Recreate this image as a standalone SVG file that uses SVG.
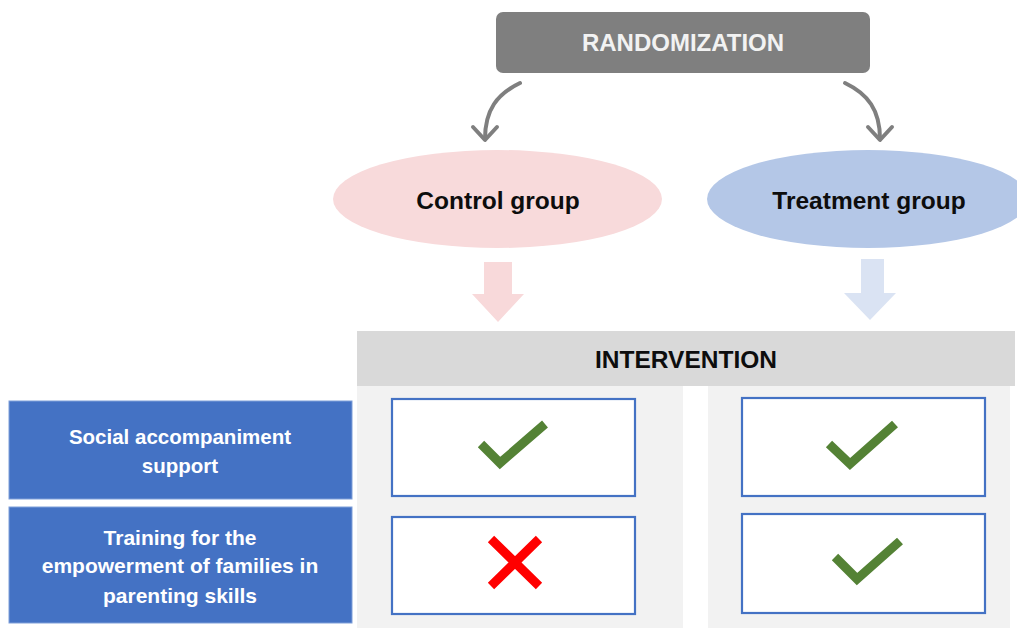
<svg xmlns="http://www.w3.org/2000/svg" width="1017" height="628" viewBox="0 0 1017 628">
  <style>
    .lbl { font-family: "Liberation Sans", Arial, sans-serif; font-weight: bold; text-anchor: middle; }
    .dark { fill: #0d0d0d; }
    .light { fill: #f2f2f2; }
    .white { fill: #ffffff; }
    .row { fill: #4472c4; stroke: #7f9fd9; stroke-width: 1; }
    .cell { fill: #ffffff; stroke: #4472c4; stroke-width: 2.2; }
    .col { fill: #f2f2f2; }
    .flow { fill: none; stroke: #7f7f7f; stroke-width: 4; stroke-linecap: round; stroke-linejoin: round; }
    .check { fill: none; stroke: #548235; stroke-width: 9; stroke-linecap: butt; stroke-linejoin: miter; }
    .cross { fill: none; stroke: #ff0000; stroke-width: 9; stroke-linecap: butt; }
  </style>

  <rect width="1017" height="628" fill="#ffffff"/>

  <!-- randomization header -->
  <g id="randomization">
    <rect x="496" y="12" width="374" height="61" rx="7" fill="#7f7f7f"/>
    <text class="lbl light" x="683" y="51" font-size="24">RANDOMIZATION</text>
  </g>

  <!-- curved arrows from randomization to the groups -->
  <g id="connectors">
    <path class="flow" d="M520,83 C497,94 485,110 485,139"/>
    <path class="flow" d="M473,127 L485,140 L497,127"/>
    <path class="flow" d="M845,83 C868,94 880,110 880,139"/>
    <path class="flow" d="M868,127 L880,140 L892,127"/>
    <!-- block arrows from the groups to the intervention table -->
    <polygon points="484,262 512,262 512,294 524,294 498,322 472,294 484,294" fill="#f8d9da"/>
    <polygon points="861,259 884,259 884,293 896,293 870,320 844,293 861,293" fill="#dae3f3"/>
  </g>

  <g id="control-group">
    <ellipse cx="497.5" cy="199" rx="164.5" ry="49" fill="#f8dadb"/>
    <text class="lbl dark" x="498" y="209" font-size="24.5">Control group</text>
  </g>

  <g id="treatment-group">
    <ellipse cx="868" cy="199" rx="161" ry="49" fill="#b4c7e7"/>
    <text class="lbl dark" x="869" y="209" font-size="24.5">Treatment group</text>
  </g>

  <!-- intervention table -->
  <g id="intervention">
    <rect class="col" x="357" y="386" width="326" height="242"/>
    <rect class="col" x="708" y="386" width="302" height="242"/>
    <rect x="357" y="331" width="658" height="55" fill="#d9d9d9"/>
    <text class="lbl dark" x="686" y="368" font-size="24.5">INTERVENTION</text>
  </g>

  <g id="row-social-support">
    <rect class="row" x="9" y="401" width="343" height="98"/>
    <text class="lbl white" x="180" y="444" font-size="20.5">Social accompaniment</text>
    <text class="lbl white" x="180" y="473" font-size="20.5">support</text>
  </g>

  <g id="row-parenting-training">
    <rect class="row" x="9" y="507" width="343" height="116"/>
    <text class="lbl white" x="180" y="545" font-size="21">Training for the</text>
    <text class="lbl white" x="180" y="573" font-size="21">empowerment of families in</text>
    <text class="lbl white" x="180" y="603" font-size="21">parenting skills</text>
  </g>

  <g id="control-social-support">
    <rect class="cell" x="392" y="399" width="243" height="97"/>
    <path class="check" d="M481,444 L500,463 L545,424"/>
  </g>

  <g id="control-parenting-training">
    <rect class="cell" x="392" y="517" width="243" height="97"/>
    <path class="cross" d="M491,539 L539,586 M539,539 L491,586"/>
  </g>

  <g id="treatment-social-support">
    <rect class="cell" x="742" y="398" width="243" height="98"/>
    <path class="check" d="M829,444 L850,464 L895,424"/>
  </g>

  <g id="treatment-parenting-training">
    <rect class="cell" x="742" y="514" width="243" height="99"/>
    <path class="check" d="M835,557 L857,579 L900,541"/>
  </g>
</svg>
